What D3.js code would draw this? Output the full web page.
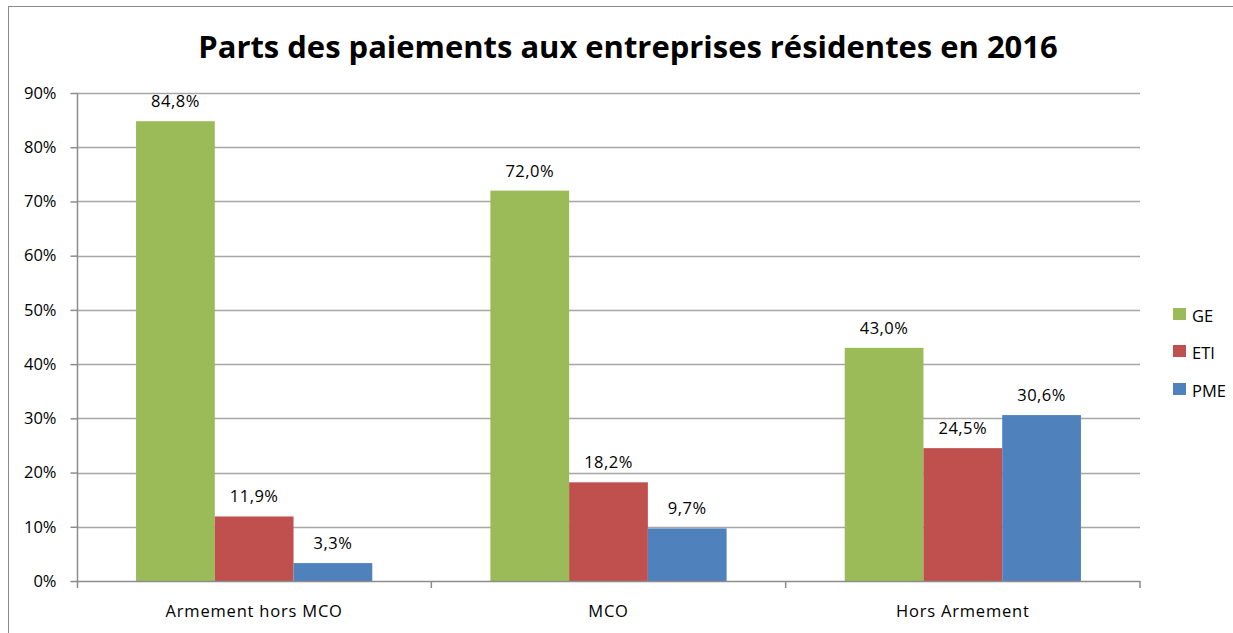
<!DOCTYPE html>
<html>
<head>
<meta charset="utf-8">
<script src="https://cdn.jsdelivr.net/npm/d3@7"></script>
<style>
  body { margin: 0; background: #fff; }
  svg { font-family: "Open Sans", Lato, sans-serif; }
</style>
</head>
<body>
<svg id="chart"></svg>
<script>
// Data
const categories = ["Armement hors MCO", "MCO", "Hors Armement"];
const seriesNames = ["GE", "ETI", "PME"];
const GE = [84.8, 72.0, 43.0];
const ETI = [11.9, 18.2, 24.5];
const PME = [3.3, 9.7, 30.6];
const yTicks = [0, 10, 20, 30, 40, 50, 60, 70, 80, 90];
const colors = ["#9bbb59", "#c0504d", "#4f81bd"];
const titleText = "Parts des paiements aux entreprises résidentes en 2016";

const width = 1233;
const height = 633;
const fs = 16.5;
const svg = d3.select("#chart").attr("width", width).attr("height", height);

// outer frame
svg.append("rect")
  .attr("x", 8.5).attr("y", 6.5)
  .attr("width", width + 10).attr("height", height + 10)
  .attr("fill", "none").attr("stroke", "#8c8c8c").attr("stroke-width", 1);

// scales
const plotLeft = 77, plotRight = 1140, plotTop = 93, plotBottom = 581;
const x0 = d3.scaleBand().domain(categories).range([plotLeft, plotRight]).paddingInner(0).paddingOuter(0);
const x1 = d3.scaleBand().domain(seriesNames).range([0, x0.bandwidth()]).paddingInner(0).paddingOuter(0.75);
const y = d3.scaleLinear().domain([0, 90]).range([plotBottom, plotTop]);

// gridlines
svg.append("g")
  .selectAll("line")
  .data(yTicks.filter((d) => d > 0))
  .enter()
  .append("line")
  .attr("x1", plotLeft).attr("x2", plotRight)
  .attr("y1", (d) => Math.round(y(d)) + 0.5)
  .attr("y2", (d) => Math.round(y(d)) + 0.5)
  .attr("stroke", "#a6a6a6").attr("stroke-width", 1.5);

// y axis
const yAxis = svg.append("g")
  .attr("transform", "translate(" + (plotLeft + 0.5) + ",0)")
  .call(d3.axisLeft(y).tickValues(yTicks).tickSize(7).tickPadding(14).tickFormat((d) => d + "%"));
yAxis.select(".domain").remove();
yAxis.append("line").attr("x1", 0).attr("x2", 0).attr("y1", plotTop).attr("y2", plotBottom + 7)
  .attr("stroke", "#8c8c8c").attr("stroke-width", 1.5);
yAxis.selectAll(".tick line").attr("stroke", "#8c8c8c").attr("stroke-width", 1.5);
yAxis.selectAll(".tick text").attr("font-size", fs).attr("fill", "#000")
  .attr("font-family", "'Open Sans', sans-serif");

// bars
const rows = categories.map((c, i) => ({ cat: c, vals: [GE[i], ETI[i], PME[i]] }));
const groups = svg.append("g")
  .selectAll("g")
  .data(rows)
  .enter()
  .append("g")
  .attr("transform", (d) => "translate(" + x0(d.cat) + ",0)");

groups.selectAll("rect")
  .data((d) => d.vals.map((v, j) => ({ name: seriesNames[j], v: v, c: colors[j] })))
  .enter()
  .append("rect")
  .attr("x", (d) => x1(d.name))
  .attr("width", x1.bandwidth())
  .attr("y", (d) => y(d.v))
  .attr("height", (d) => plotBottom - y(d.v))
  .attr("fill", (d) => d.c);

groups.selectAll("text")
  .data((d) => d.vals.map((v, j) => ({ name: seriesNames[j], v: v })))
  .enter()
  .append("text")
  .attr("x", (d) => x1(d.name) + x1.bandwidth() / 2)
  .attr("y", (d) => y(d.v) - 14)
  .attr("text-anchor", "middle")
  .attr("font-size", fs)
  .attr("letter-spacing", 0.5)
  .text((d) => d.v.toFixed(1).replace(".", ",") + "%");

// x axis
svg.append("line")
  .attr("x1", plotLeft).attr("x2", plotRight)
  .attr("y1", plotBottom + 0.5).attr("y2", plotBottom + 0.5)
  .attr("stroke", "#8c8c8c").attr("stroke-width", 1.5);
const xAxis = svg.append("g").attr("transform", "translate(0," + plotBottom + ")");
xAxis.selectAll("line")
  .data(categories.map((c) => x0(c) + x0.bandwidth()))
  .enter()
  .append("line")
  .attr("x1", (d) => d).attr("x2", (d) => d)
  .attr("y1", 0).attr("y2", 7)
  .attr("stroke", "#8c8c8c").attr("stroke-width", 1.5);
xAxis.selectAll("text")
  .data(categories)
  .enter()
  .append("text")
  .attr("x", (d) => x0(d) + x0.bandwidth() / 2)
  .attr("y", 36)
  .attr("text-anchor", "middle")
  .attr("font-size", fs)
  .attr("letter-spacing", 0.8)
  .text((d) => d);

// legend
const legend = svg.append("g").attr("transform", "translate(1173,0)");
const legendY = [314, 351, 389];
seriesNames.forEach((n, i) => {
  legend.append("rect").attr("x", 0).attr("y", legendY[i] - 6).attr("width", 13).attr("height", 12).attr("fill", colors[i]);
  legend.append("text").attr("x", 19).attr("y", legendY[i] + 8).attr("font-size", fs).text(n);
});

// title, fitted to the reference width
const title = svg.append("text")
  .attr("x", 628).attr("y", 58)
  .attr("text-anchor", "middle")
  .attr("font-size", 30)
  .attr("font-weight", "bold")
  .text(titleText);
const tw = title.node().getComputedTextLength();
title.attr("font-size", 30 * 860 / tw);
</script>
</body>
</html>
